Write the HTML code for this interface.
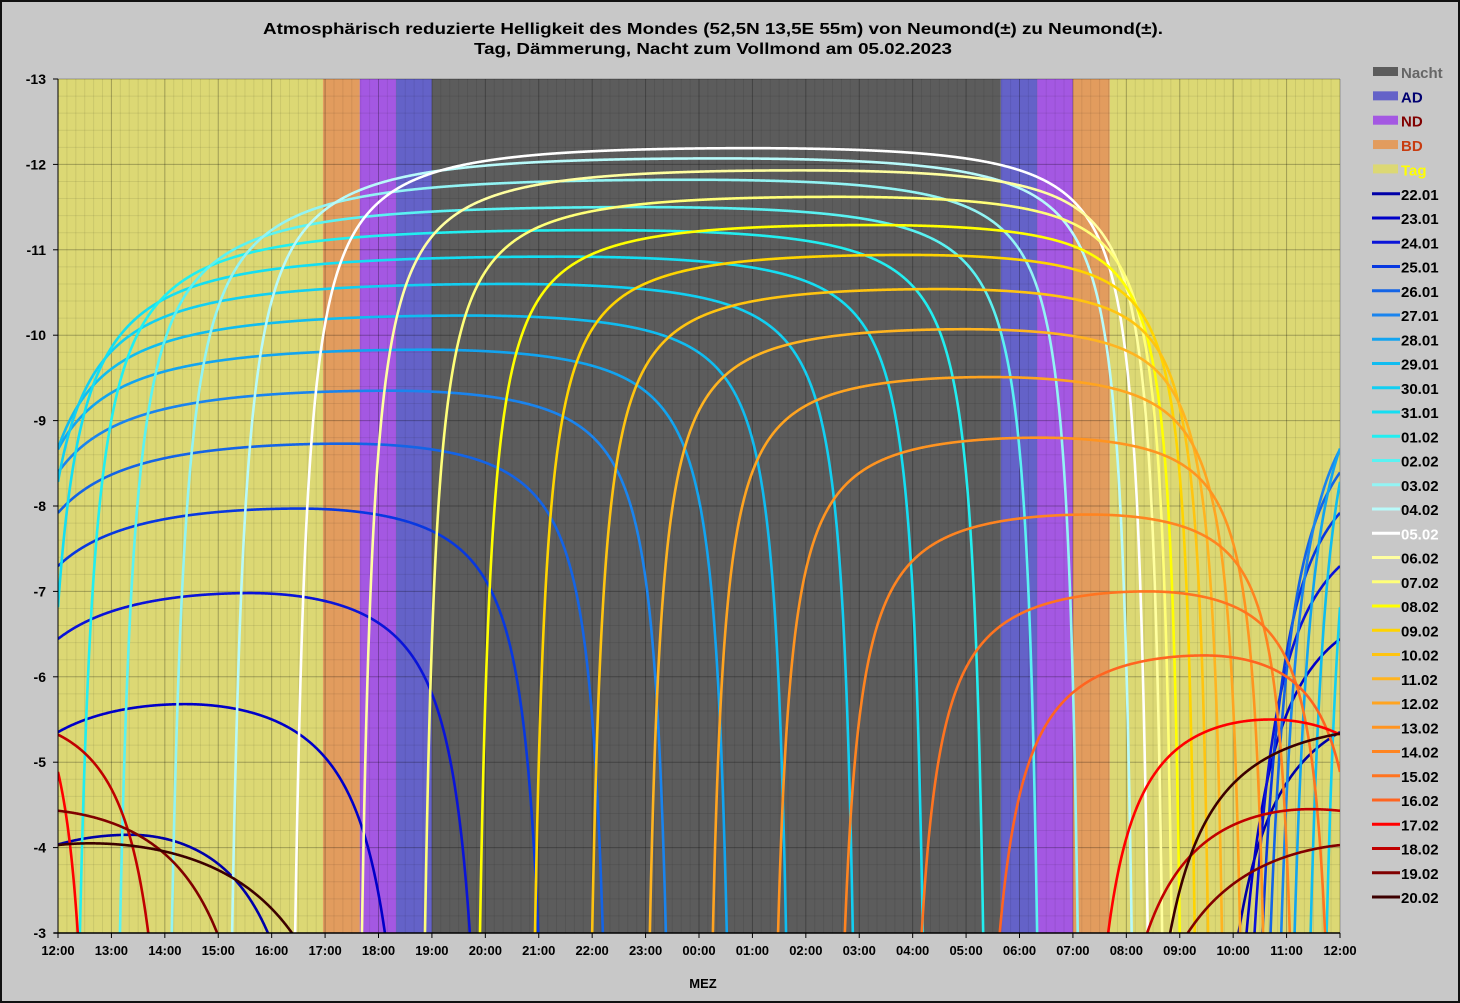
<!DOCTYPE html>
<html><head><meta charset="utf-8">
<style>
html,body{margin:0;padding:0;background:#c8c8c8;}
#wrap{position:relative;width:1460px;height:1003px;box-sizing:border-box;border:2px solid #111;background:#c8c8c8;overflow:hidden;}
svg{position:absolute;left:-2px;top:-2px;}
text{font-family:"Liberation Sans",Arial,sans-serif;font-weight:bold;}
</style></head>
<body>
<div id="wrap">
<svg id="chart" width="1460" height="1003" viewBox="0 0 1460 1003"></svg>
</div>
<script>
// ---- data ----
const seriesLabels = ["22.01","23.01","24.01","25.01","26.01","27.01","28.01","29.01","30.01","31.01","01.02","02.02","03.02","04.02","05.02","06.02","07.02","08.02","09.02","10.02","11.02","12.02","13.02","14.02","15.02","16.02","17.02","18.02","19.02","20.02"];
// each moon pass, hours relative to 12:00 of its series date (crossing of -3 mag)
const passRise    = [-2.1,-1.9,-1.75,-1.6,-1.45,-1.3,-1.1,-0.85,-0.55,-0.25,0.41,1.16,2.13,3.26,4.44,5.69,6.87,7.90,8.93,10.0,11.08,12.26,13.48,14.73,16.17,17.63,19.66,20.39,21.15,20.82];
const passTransit = [1.35,2.38,3.6,4.53,5.37,6.21,6.87,7.71,8.46,9.4,10.15,10.9,11.83,12.39,12.95,13.89,14.6,15.2,15.9,16.5,17.0,17.45,18.38,19.32,20.4,21.47,22.69,23.44,24.6,25.3];
const passSet     = [3.93,6.12,7.71,8.99,10.2,11.38,12.52,13.63,14.88,16.19,17.32,18.33,19.09,20.10,20.40,20.67,20.85,21.0,21.28,21.53,21.79,22.13,22.56,23.06,23.72,24.37,25.69,26.98,28.38,29.0];
const passPeak    = [-4.15,-5.68,-6.98,-7.97,-8.73,-9.35,-9.83,-10.23,-10.6,-10.92,-11.23,-11.5,-11.82,-12.07,-12.19,-11.93,-11.62,-11.29,-10.94,-10.54,-10.07,-9.51,-8.8,-7.9,-7.0,-6.25,-5.5,-4.45,-4.05,-5.4];
const passMaxAlt  = [12,18,24,30,35,40,44,48,52,55,58,60,61,61,61,60,59,57,55,52,48,44,40,35,30,24,18,14,12,20];
const seriesColors = ["#0000a8","#0000c8","#0a14d8","#0838e0","#1464e6","#1a84ee","#12a4f0","#10bcf0","#12cff2","#14def2","#22eef0","#5af2f2","#92f4f4","#b8fafa","#ffffff","#ffffa0","#ffff78","#ffff00","#ffd400","#ffc410","#ffb420","#ffa420","#ff9420","#ff8420","#ff7420","#ff6420","#ff0000","#c00000","#800000","#3c0000"];
// twilight bands (hours from 12:00)
const bandNames  = ["Tag","BD","ND","AD","Nacht","AD","ND","BD","Tag"];
const bandStarts = [0,4.96,5.65,6.33,7.0,17.65,18.33,19.0,19.69];
const bandEnds   = [4.96,5.65,6.33,7.0,17.65,18.33,19.0,19.69,24];
const bandColors = {"Tag":"#dcd874","BD":"#e29c5e","ND":"#a458e2","AD":"#6462c8","Nacht":"#5c5c5c"};
const yTicks = [-13,-12,-11,-10,-9,-8,-7,-6,-5,-4,-3];
const xTickLabels = ["12:00","13:00","14:00","15:00","16:00","17:00","18:00","19:00","20:00","21:00","22:00","23:00","00:00","01:00","02:00","03:00","04:00","05:00","06:00","07:00","08:00","09:00","10:00","11:00","12:00"];

// ---- geometry ----
const PL=58, PR=1340, PT=79, PB=933;
const xS = t => PL + (t/24)*(PR-PL);
const yS = v => PT + (v-(-13))/10*(PB-PT);
const NS="http://www.w3.org/2000/svg";
const svg=document.getElementById('chart');
function mk(tag,attrs,parent){const e=document.createElementNS(NS,tag);for(const k in attrs)e.setAttribute(k,attrs[k]);(parent||svg).appendChild(e);return e;}

const defs=mk('defs',{});
const cp=mk('clipPath',{id:'plotclip'},defs);
mk('rect',{x:PL,y:PT,width:PR-PL,height:PB-PT},cp);

const t1=mk('text',{x:713,y:34,'text-anchor':'middle','font-size':16,fill:'#000',textLength:900,lengthAdjust:'spacingAndGlyphs'});
t1.textContent="Atmosphärisch reduzierte Helligkeit des Mondes (52,5N 13,5E  55m) von Neumond(±) zu Neumond(±).";


const t2=mk('text',{x:713,y:54,'text-anchor':'middle','font-size':16,fill:'#000',textLength:478,lengthAdjust:'spacingAndGlyphs'});
t2.textContent="Tag, Dämmerung, Nacht zum Vollmond am 05.02.2023";



const bandG=mk('g',{});


for(let i=0;i<bandNames.length;i++){
  const r=mk('rect',{x:xS(bandStarts[i]),y:PT,width:xS(bandEnds[i])-xS(bandStarts[i]),height:PB-PT,fill:bandColors[bandNames[i]]},bandG);
  
  
}
const gridG=mk('g',{});


for(let m=0;m<=24*6;m++){
  const x=xS(m/6);
  const major=m%6===0;
  mk('line',{x1:x,x2:x,y1:PT,y2:PB,stroke:major?'rgba(0,0,0,0.28)':'rgba(0,0,0,0.08)','stroke-width':1},gridG);
}
for(let m=0;m<=50;m++){
  const y=yS(-13+m*0.2);
  const major=m%5===0;
  mk('line',{x1:PL,x2:PR,y1:y,y2:y,stroke:major?'rgba(0,0,0,0.28)':'rgba(0,0,0,0.08)','stroke-width':1},gridG);
}

// ---- curves ----
const K=0.3;
const airmass=h=>1/(Math.sin(h*Math.PI/180)+0.50572*Math.pow(h+6.07995,-1.6364));
function magAt(u,peak,hmax){const h=hmax*Math.sin(Math.PI/2*u);return peak+K*(airmass(h)-airmass(hmax));}
function crossU(peak,hmax){
  if(magAt(0,peak,hmax)<=-3) return 0;
  let lo=0,hi=1;
  for(let i=0;i<50;i++){const mid=(lo+hi)/2; if(magAt(mid,peak,hmax)>-3) lo=mid; else hi=mid;}
  return (lo+hi)/2;
}
function passValue(j,t){
  const r=passRise[j],T=passTransit[j],s=passSet[j],pk=passPeak[j],hm=passMaxAlt[j];
  const us=crossU(pk,hm);
  let u;
  if(t<=T) u=us+(1-us)*(t-r)/(T-r); else u=us+(1-us)*(s-t)/(s-T);
  u=Math.max(0,Math.min(1,u));
  return magAt(u,pk,hm);
}
const curveG=mk('g',{'clip-path':'url(#plotclip)'});


for(let i=0;i<seriesLabels.length;i++){
  const g=mk('g',{},curveG);
  
  
  for(let j=i-1;j<=i+1;j++){
    if(j<0||j>=passRise.length) continue;
    const off=24*(j-i);
    const a=Math.max(0,passRise[j]+off), b=Math.min(24,passSet[j]+off);
    if(b<=a) continue;
    const pts=[];
    const n=Math.max(20,Math.ceil((b-a)/0.01));
    for(let k=0;k<=n;k++){
      const t=a+(b-a)*k/n;
      pts.push(xS(t).toFixed(2)+','+yS(passValue(j,t-off)).toFixed(2));
    }
    const p=mk('polyline',{points:pts.join(' '),fill:'none',stroke:seriesColors[i],'stroke-width':2.6,'stroke-linejoin':'round'},g);
    
    
  }
}
mk('line',{x1:PL,x2:PL,y1:PT,y2:PB+4,stroke:'#000','stroke-width':1});
mk('line',{x1:PL-4,x2:PR,y1:PB,y2:PB,stroke:'#000','stroke-width':1.5});
const yAx=mk('g',{});


yTicks.forEach(v=>{
  const y=yS(v);
  mk('line',{x1:PL-5,x2:PL,y1:y,y2:y,stroke:'#000'},yAx);
  const tx=mk('text',{x:46,y:y+5,'text-anchor':'end','font-size':14,fill:'#000'},yAx);
  tx.textContent=String(v);
  
  
});
const xAx=mk('g',{});


xTickLabels.forEach((lab,i)=>{
  const x=xS(i);
  mk('line',{x1:x,x2:x,y1:PB,y2:PB+5,stroke:'#000'},xAx);
  const tx=mk('text',{x:x,y:955,'text-anchor':'middle','font-size':13,fill:'#000'},xAx);
  tx.textContent=lab;
  
  
});
const xt=mk('text',{x:703,y:988,'text-anchor':'middle','font-size':13,fill:'#000'});
xt.textContent="MEZ";



const legG=mk('g',{});


const legBands=["Nacht","AD","ND","BD","Tag"];
const legBandText={"Nacht":"#666666","AD":"#000070","ND":"#800000","BD":"#c83c10","Tag":"#ffff00"};
let ly=72;
legBands.forEach(b=>{
  const e=mk('g',{},legG);
  
  
  mk('rect',{x:1373,y:ly-5,width:25,height:9,fill:bandColors[b]},e);
  const tx=mk('text',{x:1401,y:ly+6,'font-size':15,fill:legBandText[b]},e);
  tx.textContent=b;
  ly+=24.35;
});
seriesLabels.forEach((s,i)=>{
  const e=mk('g',{},legG);
  
  
  mk('line',{x1:1372,x2:1400,y1:ly,y2:ly,stroke:seriesColors[i],'stroke-width':3},e);
  const tx=mk('text',{x:1401,y:ly+6,'font-size':15,fill:s==="05.02"?"#ffffff":"#000"},e);
  tx.textContent=s;
  ly+=24.25;
});
</script>
</body></html>
